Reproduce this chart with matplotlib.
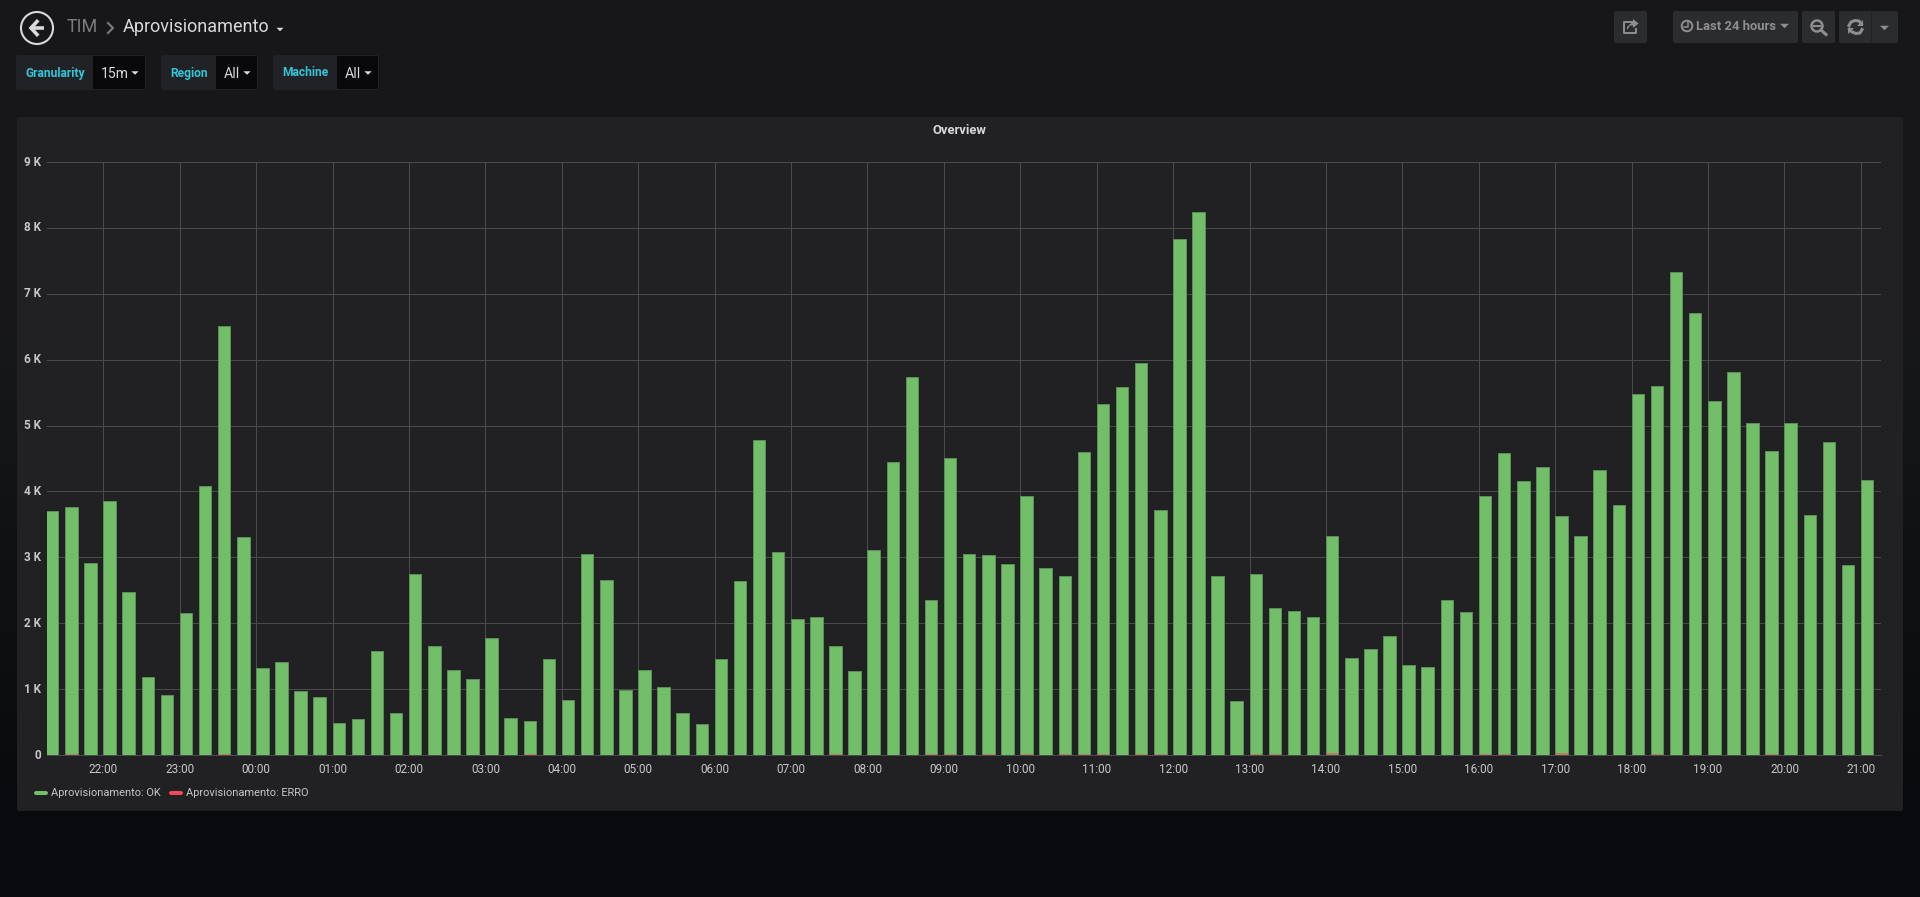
import numpy as np
import pandas as pd
import matplotlib
matplotlib.use("Agg")
import matplotlib.pyplot as plt
import matplotlib.dates as mdates
from matplotlib.patches import Circle, FancyBboxPatch, Rectangle, Polygon
from matplotlib.ticker import FuncFormatter

plt.rcParams['font.family'] = ['Roboto', 'DejaVu Sans']

# height of each bar, 21:15 -> 21:00 next day
ok_values = [
    3708, 3762, 2910, 3858, 2472, 1188, 912, 2154, 4086, 6516, 3306, 1326,
    1416, 978, 882, 486, 546, 1584, 642, 2742, 1656, 1284, 1158, 1782,
    564, 522, 1464, 834, 3048, 2658, 990, 1284, 1026, 642, 468, 1452,
    2640, 4788, 3078, 2070, 2100, 1656, 1272, 3108, 4452, 5742, 2358, 4506,
    3048, 3036, 2898, 3924, 2838, 2718, 4596, 5334, 5592, 5946, 3714, 7830,
    8238, 2724, 822, 2742, 2232, 2190, 2100, 3318, 1470, 1602, 1806, 1362,
    1338, 2358, 2166, 3930, 4584, 4152, 4368, 3624, 3318, 4320, 3792, 5472,
    5598, 7326, 6708, 5376, 5814, 5040, 4614, 5040, 3636, 4758, 2880, 4176,
]
# only a thin sliver of red is visible at the foot of some bars
erro_bars = [1, 9, 25, 41, 46, 47, 49, 51, 53, 54, 55, 57, 58, 63, 64, 67, 75, 76, 79, 84, 90]
erro_heights = [22, 22, 15, 15, 15, 15, 10, 10, 12, 12, 15, 12, 10, 22, 10, 25, 12, 10, 25, 12, 12]
y_ticks = [0, 1000, 2000, 3000, 4000, 5000, 6000, 7000, 8000, 9000]

series_ok = "Aprovisionamento: OK"
series_erro = "Aprovisionamento: ERRO"

GREEN = "#73BF69"
GREEN_EDGE = "#5a8f57"
RED = "#F2495C"
TEXT = "#d8d9da"
TICK_TEXT = "#c7c7c9"
GRID = "#4b4b4e"
PANEL = "#212124"
CYAN = "#33c5d8"
BTN = "#2b2c2e"
ICON = "#8e8e90"

W, H = 1920, 897
fig = plt.figure(figsize=(W / 100, H / 100), dpi=100)

# page layer in pixel coordinates
page = fig.add_axes([0, 0, 1, 1])
page.set_xlim(0, W)
page.set_ylim(H, 0)
page.axis("off")
grad = np.array([[0.0902, 0.0941, 0.102], [0.0902, 0.0941, 0.102],
                 [0.0627, 0.0667, 0.0745], [0.0392, 0.0431, 0.0510]])[:, None, :]
page.imshow(grad, extent=(0, W, H, 0), aspect="auto", interpolation="bilinear", zorder=0)
page.set_xlim(0, W)
page.set_ylim(H, 0)


def box(x0, y0, x1, y1, color, z=1, edge="none"):
    page.add_patch(FancyBboxPatch((x0 + 1, y0 + 1), x1 - x0 - 2, y1 - y0 - 2,
                                  boxstyle="round,pad=1,rounding_size=2", fc=color, ec=edge, lw=0.7, zorder=z))


def caret(cx, cy, w, h, color):
    page.add_patch(Polygon([(cx - w, cy - h / 2), (cx + w, cy - h / 2), (cx, cy + h / 2)], closed=True, fc=color, ec="none", zorder=4))


def label(x, y, s, size_px, color, weight="normal", ha="left"):
    page.text(x, y, s, fontsize=size_px * 0.72, color=color, weight=weight, ha=ha, va="center", zorder=5)


# header
page.add_patch(Circle((37, 28), 16, fc="none", ec=TEXT, lw=1.5, zorder=4))
page.plot([31, 44], [28, 28], color=TEXT, lw=2.6, solid_capstyle="butt", zorder=4)
page.plot([37, 31, 37], [21.5, 28, 34.5], color=TEXT, lw=2.6, solid_joinstyle="miter", zorder=4)
label(67, 27, "TIM", 18, "#7b7b7e")
page.plot([108, 113, 108], [23, 28, 33], color="#7b7b7e", lw=1.5, zorder=4)
label(123, 27, "Aprovisionamento", 18, TEXT)
caret(280, 29.5, 3.5, 3.5, TEXT)

# template variables
variables = [("Granularity", "15m", 16, 93, 146), ("Region", "All", 161, 216, 258), ("Machine", "All", 273, 337, 379)]
for name, value, x0, x1, x2 in variables:
    box(x0, 55, x2, 90, "#212226", 1)
    page.add_patch(Rectangle((x1, 56), x2 - x1 - 1, 33, fc="#09090b", ec="none", zorder=2))
    label(x0 + 9, 73, name, 12, CYAN, weight="bold")
    label(x1 + 8, 74, value, 14, TEXT)
    caret(x2 - 11, 73, 3.7, 3.5, TEXT)

# toolbar
box(1614, 11, 1647, 43, BTN, 1)
box(1673, 11, 1798, 43, BTN, 1)
box(1802, 11, 1835, 43, BTN, 1)
box(1839, 11, 1898, 43, BTN, 1)
page.plot([1871, 1871], [11, 43], color="#212224", lw=0.7, zorder=2)
# share
page.plot([1632, 1624, 1624, 1636, 1636], [22, 22, 33, 33, 29], color=ICON, lw=1.4, zorder=4)
page.add_patch(Polygon([(1633, 21.5), (1633, 19), (1638.5, 23.5), (1633, 28), (1633, 25.5), (1630, 25.5), (1627, 30), (1627, 27)],
                       closed=True, fc=ICON, ec="none", zorder=4))
# clock
page.add_patch(Circle((1687, 26), 5.3, fc="none", ec=ICON, lw=1.4, zorder=4))
page.plot([1687.5, 1687.5, 1684], [22.5, 27, 27], color=ICON, lw=1.1, zorder=4)
label(1696, 27, "Last 24 hours", 13, ICON, weight="bold")
caret(1784.5, 26, 4.5, 4.5, ICON)
# zoom out
page.add_patch(Circle((1817, 26), 5.5, fc="none", ec=ICON, lw=1.8, zorder=4))
page.plot([1814, 1820], [26, 26], color=ICON, lw=1.5, zorder=4)
page.plot([1821, 1826], [30, 34.5], color=ICON, lw=2.2, zorder=4)
# refresh
page.plot([1849, 1851, 1855, 1859, 1861.5], [25.5, 22, 20.5, 21, 24], color=ICON, lw=2.2, zorder=4)
page.plot([1849.5, 1852, 1856, 1860, 1862], [29, 32, 33.5, 33, 29.5], color=ICON, lw=2.2, zorder=4)
page.add_patch(Polygon([(1863, 20), (1863, 26), (1857, 26)], closed=True, fc=ICON, ec="none", zorder=4))
page.add_patch(Polygon([(1848, 34), (1848, 28), (1854, 28)], closed=True, fc=ICON, ec="none", zorder=4))
caret(1884.5, 28, 4.5, 4.5, ICON)

# panel
box(17, 117, 1903, 811, PANEL, 1)
label(959, 131, "Overview", 13, TEXT, weight="bold", ha="center")

# legend
page.plot([36, 46], [793, 793], color=GREEN, lw=2.9, solid_capstyle="round", zorder=4)
label(51, 793, series_ok, 11, TICK_TEXT)
page.plot([171, 181], [793, 793], color=RED, lw=2.9, solid_capstyle="round", zorder=4)
label(186, 793, series_erro, 11, TICK_TEXT)

# graph
times = pd.date_range("2019-01-01 21:15", periods=len(ok_values), freq="15min")
bin_days = 15 / (24 * 60)
erro = np.zeros(len(ok_values))
erro[erro_bars] = erro_heights

ax = fig.add_axes([47 / W, (H - 755) / H, (1881 - 47) / W, (755 - 162) / H])
ax.patch.set_alpha(0)
ax.bar(times, ok_values, width=bin_days * 0.655, align="edge",
       color=GREEN, edgecolor=GREEN_EDGE, linewidth=0.7, zorder=3)
ax.bar(times, erro, width=bin_days * 0.655, align="edge", color=RED, alpha=0.55, linewidth=0, zorder=4)

ax.set_xlim(mdates.date2num(times[0]) + 0.8 / 1440, mdates.date2num(times[0]) + 1 + 0.8 / 1440)
ax.set_ylim(0, 9000)
ax.set_yticks(y_ticks)
ax.yaxis.set_major_formatter(FuncFormatter(lambda v, _: "0" if v == 0 else f"{v / 1000:.0f} K"))
ax.xaxis.set_major_locator(mdates.HourLocator())
ax.xaxis.set_major_formatter(mdates.DateFormatter("%H:%M"))
ax.grid(True, color=GRID, linewidth=0.72, zorder=1)
ax.set_axisbelow(True)
ax.tick_params(axis="both", length=0, labelsize=8.5, labelcolor=TICK_TEXT)
ax.tick_params(axis="x", pad=6)
ax.tick_params(axis="y", pad=4)
for tick in ax.get_yticklabels():
    tick.set_fontweight("bold")
    tick.set_verticalalignment("center")
for spine in ["top", "right", "left"]:
    ax.spines[spine].set_visible(False)
ax.spines["bottom"].set_color(GRID)
ax.spines["bottom"].set_linewidth(0.72)

fig.savefig("out.png", dpi=100)
